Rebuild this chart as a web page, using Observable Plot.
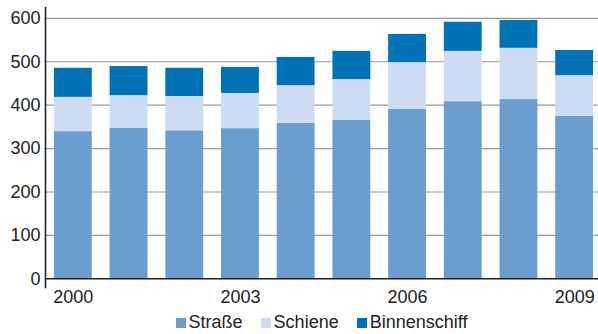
<!DOCTYPE html>
<html>
<head>
<meta charset="utf-8">
<script src="https://cdn.jsdelivr.net/npm/d3@7"></script>
<script src="https://cdn.jsdelivr.net/npm/@observablehq/plot@0.6"></script>
<style>
  html, body { margin: 0; padding: 0; background: #fff; }
  body { width: 598px; height: 334px; overflow: hidden; font-family: "Liberation Sans", Arial, sans-serif; color: #222; }
  #legend { margin-left: 45px; text-align: center; font-size: 18px; line-height: 24px; height: 24px; white-space: nowrap; }
  .item { display: inline-block; margin: 0 9px; }
  .sw { display: inline-block; width: 10px; height: 10px; margin-right: 3px; vertical-align: baseline; }
</style>
</head>
<body>
<div id="chart"></div>
<div id="legend"></div>
<script>
const years = ["2000","2001","2002","2003","2004","2005","2006","2007","2008","2009"];
const strasse = [339, 347, 341, 346, 358, 365, 390, 408, 413, 374];
const schiene = [79, 75, 79, 81, 87, 94, 108, 116, 118, 94];
const binnenschiff = [67, 67, 65, 60, 65, 65, 65, 67, 64, 58];
const series = ["Straße", "Schiene", "Binnenschiff"];
const colors = ["#6b9ecf", "#cddcf3", "#0072b5"];
const xTicks = ["2000", "2003", "2006", "2009"];
const yTicks = [0, 100, 200, 300, 400, 500, 600];

const values = [strasse, schiene, binnenschiff];
const data = years.flatMap((year, i) => series.map((mode, k) => ({year, mode, value: values[k][i]})));

const chart = Plot.plot({
  width: 598,
  height: 310,
  marginLeft: 45,
  marginRight: 0,
  marginTop: 7,
  marginBottom: 23,
  style: {fontFamily: "'Liberation Sans', Arial, sans-serif", color: "#222", background: "#fff"},
  x: {type: "band", domain: years, range: [45, 602], paddingInner: 0.32, paddingOuter: 0.16, round: false},
  y: {domain: [-20, 625]},
  color: {domain: series, range: colors},
  marks: [
    Plot.gridY(yTicks.slice(1), {stroke: "#999", strokeOpacity: 1, strokeWidth: 1.2}),
    Plot.barY(data, {x: "year", y: "value", fill: "mode", order: series}),
    Plot.ruleY([0], {stroke: "#222", strokeWidth: 1.6}),
    Plot.frame({anchor: "left", stroke: "#222", strokeWidth: 1.6}),
    Plot.axisY({ticks: yTicks, tickSize: 0, tickPadding: 5, fontSize: 18, label: null}),
    Plot.axisX({ticks: xTicks, tickSize: 0, tickPadding: 3, fontSize: 18, label: null})
  ]
});
document.getElementById("chart").appendChild(chart);

const legend = document.getElementById("legend");
series.forEach((s, k) => {
  const item = document.createElement("span");
  item.className = "item";
  const sw = document.createElement("span");
  sw.className = "sw";
  sw.style.background = colors[k];
  item.appendChild(sw);
  item.appendChild(document.createTextNode(s));
  legend.appendChild(item);
});
</script>
</body>
</html>
